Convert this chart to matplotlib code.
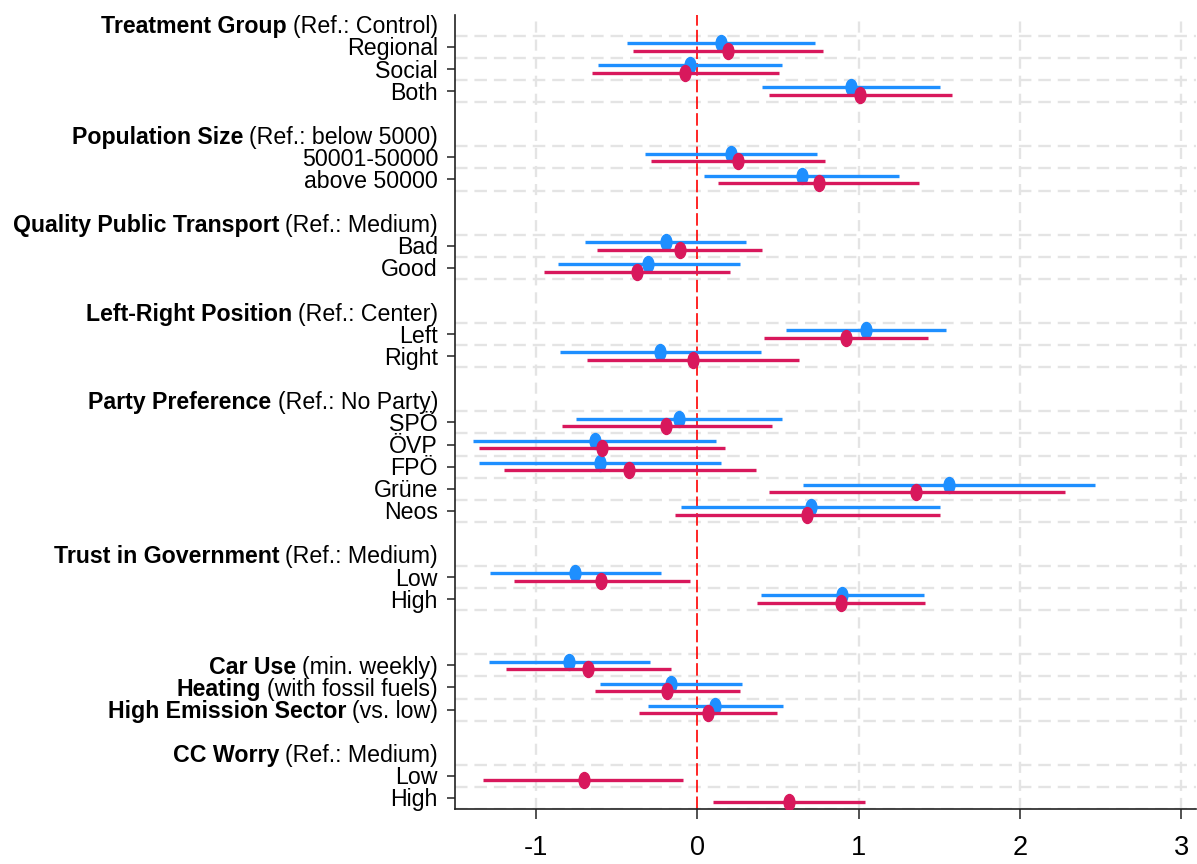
import numpy as np
import matplotlib
matplotlib.use("Agg")
import matplotlib.pyplot as plt
from matplotlib.path import Path
from matplotlib.transforms import Affine2D, blended_transform_factory, offset_copy

# ---- labels -------------------------------------------------------------
group_titles = ["Treatment Group", "Population Size", "Quality Public Transport",
                "Left-Right Position", "Party Preference", "Trust in Government",
                "", "CC Worry"]
group_refs = ["(Ref.: Control)", "(Ref.: below 5000)", "(Ref.: Medium)",
              "(Ref.: Center)", "(Ref.: No Party)", "(Ref.: Medium)",
              "", "(Ref.: Medium)"]
group_items = [
    [("", "Regional"), ("", "Social"), ("", "Both")],
    [("", "50001-50000"), ("", "above 50000")],
    [("", "Bad"), ("", "Good")],
    [("", "Left"), ("", "Right")],
    [("", "SPÖ"), ("", "ÖVP"), ("", "FPÖ"), ("", "Grüne"), ("", "Neos")],
    [("", "Low"), ("", "High")],
    [("Car Use", "(min. weekly)"), ("Heating", "(with fossil fuels)"),
     ("High Emission Sector", "(vs. low)")],
    [("", "Low"), ("", "High")],
]

# ---- coefficients and 95% confidence intervals ------------------------
nan = np.nan
blue_est = [0.148, -0.042, 0.955, 0.211, 0.647, -0.193, -0.303, 1.047, -0.231,
            -0.110, -0.632, -0.602, 1.558, 0.703, -0.754, 0.899,
            -0.792, -0.163, 0.113, nan, nan]
blue_lo = [-0.433, -0.617, 0.404, -0.323, 0.042, -0.694, -0.861, 0.552, -0.852,
           -0.751, -1.389, -1.350, 0.653, -0.098, -1.282, 0.395,
           -1.288, -0.602, -0.306, nan, nan]
blue_hi = [0.733, 0.528, 1.507, 0.745, 1.252, 0.303, 0.264, 1.543, 0.398,
           0.528, 0.119, 0.151, 2.466, 1.504, -0.223, 1.407,
           -0.294, 0.279, 0.531, nan, nan]

red_est = [0.190, -0.074, 1.009, 0.252, 0.754, -0.107, -0.374, 0.923, -0.024,
           -0.190, -0.590, -0.421, 1.356, 0.682, -0.596, 0.893,
           -0.674, -0.187, 0.065, -0.703, 0.570]
red_lo = [-0.400, -0.653, 0.445, -0.288, 0.131, -0.620, -0.950, 0.415, -0.680,
          -0.840, -1.350, -1.199, 0.445, -0.136, -1.136, 0.371,
          -1.181, -0.635, -0.359, -1.329, 0.101]
red_hi = [0.777, 0.507, 1.576, 0.795, 1.374, 0.404, 0.205, 1.430, 0.632,
          0.463, 0.172, 0.362, 2.276, 1.504, -0.047, 1.412,
          -0.160, 0.264, 0.493, -0.086, 1.039]

x_ticks = [-1, 0, 1, 2, 3]

# ---- style ----------------------------------------------------------------
plt.rcParams["font.family"] = ["Liberation Sans", "DejaVu Sans"]
plt.rcParams["axes.unicode_minus"] = False
plt.rcParams["lines.scale_dashes"] = False

BLUE = "#1E8FFF"
RED = "#D8185C"
GRID = "#E4E4E4"

# ---- row layout: header row, item rows, one blank row between groups -------
rows = []
y = 0
for title, ref, items in zip(group_titles, group_refs, group_items):
    rows.append((y, title, ref, False))
    y += 1
    for bold, normal in items:
        rows.append((y, bold, normal, True))
        y += 1
    y += 1
item_y = np.array([r[0] for r in rows if r[3]], dtype=float)

fig = plt.figure(figsize=(11.97, 8.64), dpi=100)
ax = fig.add_axes([0.3801, 0.0637, 0.619, 0.9190])
ax.set_xlim(-1.5, 3.09)
ax.set_ylim(item_y.max() + 0.5, -0.45)

# grid: horizontal lines bracket every item row, vertical lines at ticks
h_grid = sorted(set(np.concatenate([item_y - 0.5, item_y + 0.5])))
for g in h_grid:
    ax.axhline(g, color=GRID, lw=1.7, dashes=(9, 5), zorder=0)
for xv in x_ticks:
    if xv != 0:
        ax.axvline(xv, color=GRID, lw=1.7, dashes=(8, 5), zorder=0)
ax.axvline(0, color="#FF0000", lw=1.2, dashes=(9, 3), zorder=1)

# oval marker
ellipse = Path.unit_circle().transformed(Affine2D().scale(0.68, 1.0))

off = 0.17
ax.hlines(item_y - off, blue_lo, blue_hi, color=BLUE, lw=2.4, zorder=3,
          capstyle="butt")
ax.plot(blue_est, item_y - off, ls="none", marker=ellipse, ms=11.5,
        color=BLUE, mec=BLUE, zorder=4)
ax.hlines(item_y + off, red_lo, red_hi, color=RED, lw=2.4, zorder=5,
          capstyle="butt")
ax.plot(red_est, item_y + off, ls="none", marker=ellipse, ms=11.5,
        color=RED, mec=RED, zorder=6)

# axes
for side in ("top", "right"):
    ax.spines[side].set_visible(False)
for side in ("left", "bottom"):
    ax.spines[side].set_linewidth(1.2)
    ax.spines[side].set_color("#222222")
ax.set_yticks(item_y)
ax.set_yticklabels([])
ax.tick_params(axis="y", length=5.8, width=1.1, color="#222222")
ax.set_xticks(x_ticks)
ax.set_xticklabels([str(v) for v in x_ticks])
ax.tick_params(axis="x", length=7.5, width=1.1, color="#222222",
               labelsize=19.5, pad=11)

# row labels: bold part followed by regular part, right-aligned at the axis
lab_tr = offset_copy(blended_transform_factory(ax.transAxes, ax.transData),
                     fig=fig, x=-17, y=-2, units="dots")
FS = 16.7
for yy, bold, normal, is_item in rows:
    if not bold and not normal:
        continue
    t = ax.text(0, yy, normal, transform=lab_tr, ha="right", va="center",
                fontsize=FS, clip_on=False)
    if bold:
        ax.annotate(bold, xy=(0, 0.5), xycoords=t, xytext=(-6, 0),
                    textcoords="offset pixels", ha="right", va="center",
                    fontsize=FS, fontweight="bold", annotation_clip=False)

fig.savefig("out.png", dpi=100)
